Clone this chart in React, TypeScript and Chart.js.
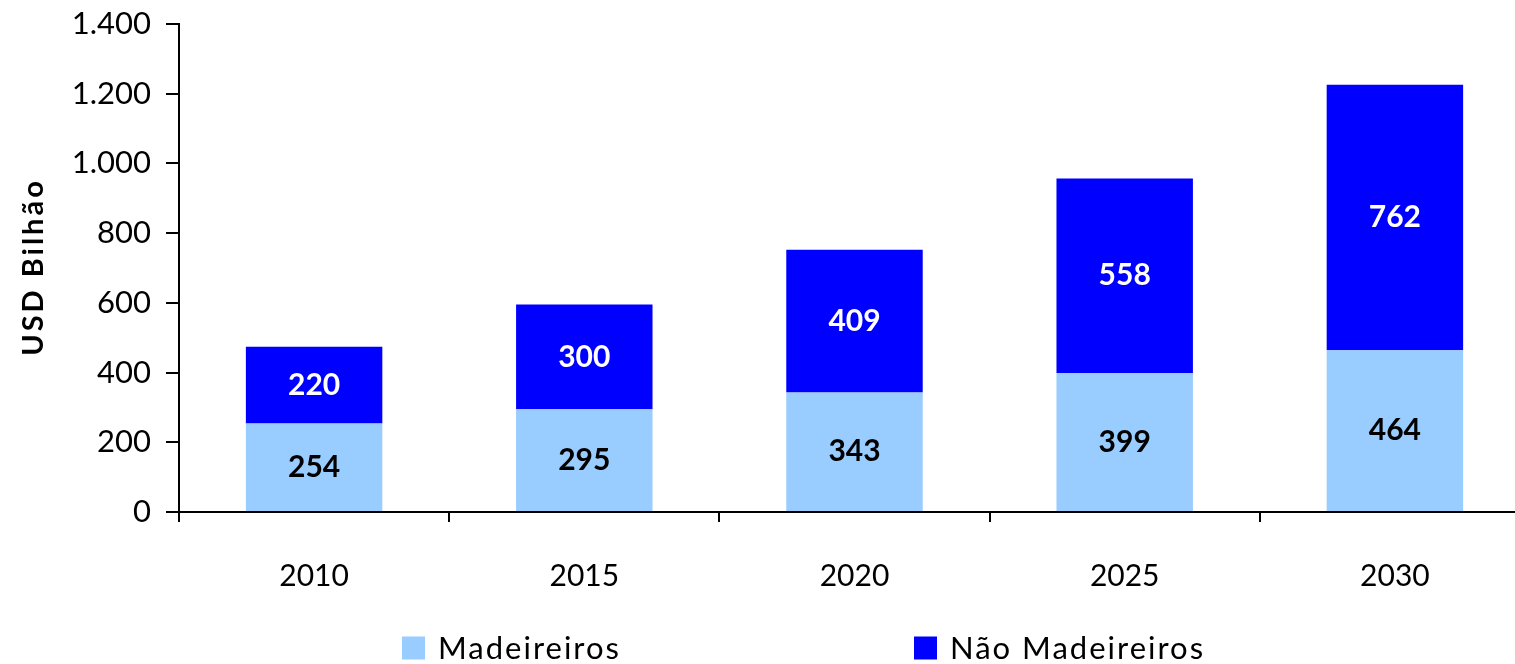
import React, { useEffect, useRef } from "react";
import { Chart, registerables } from "chart.js";

Chart.register(...registerables);

const years = ["2010", "2015", "2020", "2025", "2030"];
const madeireiros = [254, 295, 343, 399, 464];
const naoMadeireiros = [220, 300, 409, 558, 762];
const seriesLabels = ["Madeireiros", "Não Madeireiros"];
const seriesColors = ["#99CCFF", "#0000FF"];
const labelColors = ["#000000", "#FFFFFF"];
const yTitle = "USD Bilhão";

const FONT = "Lato, 'Open Sans', sans-serif";

function fmt(v: number): string {
  const s = String(Math.round(v));
  return s.replace(/\B(?=(\d{3})+(?!\d))/g, ".");
}

const valueLabels = {
  id: "valueLabels",
  afterDatasetsDraw(chart: any) {
    const ctx = chart.ctx;
    ctx.save();
    ctx.font = `bold 30px ${FONT}`;
    ctx.textAlign = "center";
    ctx.textBaseline = "middle";
    chart.data.datasets.forEach((ds: any, di: number) => {
      const meta = chart.getDatasetMeta(di);
      ctx.fillStyle = labelColors[di];
      meta.data.forEach((el: any, i: number) => {
        const y = (el.y + el.base) / 2;
        ctx.fillText(String(ds.data[i]), el.x, y);
      });
    });
    ctx.restore();
  },
};

const axisTitle = {
  id: "axisTitle",
  afterDraw(chart: any) {
    const ctx = chart.ctx;
    const area = chart.chartArea;
    ctx.save();
    (ctx as any).letterSpacing = "3px";
    ctx.font = `bold 29px ${FONT}`;
    ctx.fillStyle = "#000";
    ctx.textAlign = "center";
    ctx.textBaseline = "middle";
    ctx.translate(34, (area.top + area.bottom) / 2);
    ctx.rotate(-Math.PI / 2);
    ctx.fillText(yTitle, 1, 0);
    ctx.restore();
  },
};

const customLegend = {
  id: "customLegend",
  afterDraw(chart: any) {
    const ctx = chart.ctx;
    ctx.save();
    (ctx as any).letterSpacing = "2px";
    ctx.font = `31px ${FONT}`;
    ctx.textBaseline = "middle";
    ctx.textAlign = "left";
    const box = 23;
    const boxGap = 13;
    const itemGap = 293;
    const startX = 402;
    const cy = 648;
    let x = startX;
    chart.data.datasets.forEach((ds: any) => {
      ctx.fillStyle = ds.backgroundColor;
      ctx.fillRect(x, cy - box / 2, box, box);
      ctx.fillStyle = "#000";
      ctx.fillText(ds.label, x + box + boxGap, cy + 1);
      x += box + boxGap + ctx.measureText(ds.label).width + itemGap;
    });
    ctx.restore();
  },
};

export default function App() {
  const ref = useRef<HTMLCanvasElement | null>(null);
  useEffect(() => {
    if (!ref.current) return;
    const chart = new Chart(ref.current, {
      type: "bar",
      data: {
        labels: years,
        datasets: [
          {
            label: seriesLabels[0],
            data: madeireiros,
            backgroundColor: seriesColors[0],
            categoryPercentage: 1,
            barPercentage: 0.505,
          },
          {
            label: seriesLabels[1],
            data: naoMadeireiros,
            backgroundColor: seriesColors[1],
            categoryPercentage: 1,
            barPercentage: 0.505,
          },
        ],
      },
      options: {
        responsive: false,
        animation: false,
        devicePixelRatio: 1,
        layout: { padding: { top: 24, right: 10, bottom: 70, left: 0 } },
        plugins: {
          legend: { display: false },
          tooltip: { enabled: false },
        },
        scales: {
          x: {
            stacked: true,
            grid: {
              display: true,
              drawOnChartArea: false,
              offset: true,
              color: "#000",
              lineWidth: 2,
              tickLength: 10,
            },
            border: { display: true, color: "#000", width: 2 },
            ticks: {
              color: "#000",
              font: { family: FONT, size: 30 },
              padding: 36,
            },
            afterFit(scale: any) {
              scale.height = 82;
              scale.paddingLeft = 0;
              scale.paddingRight = 0;
            },
          },
          y: {
            stacked: true,
            min: 0,
            max: 1400,
            grid: {
              display: true,
              drawOnChartArea: false,
              color: "#000",
              lineWidth: 2,
              tickLength: 13,
            },
            border: { display: true, color: "#000", width: 2 },
            ticks: {
              stepSize: 200,
              color: "#000",
              font: { family: FONT, size: 31 },
              padding: 15,
              callback: (v: any) => fmt(Number(v)),
            },
            title: { display: false },
            afterFit(scale: any) {
              scale.width = 179;
              scale.paddingTop = 0;
              scale.paddingBottom = 0;
            },
          },
        },
      },
      plugins: [valueLabels, axisTitle, customLegend],
    });
    return () => chart.destroy();
  }, []);
  return (
    <div
      style={{
        position: "fixed",
        left: 0,
        top: 0,
        width: 1515,
        height: 664,
        overflow: "hidden",
        background: "#fff",
      }}
    >
      <canvas ref={ref} width={1540} height={664} style={{ display: "block" }} />
    </div>
  );
}
